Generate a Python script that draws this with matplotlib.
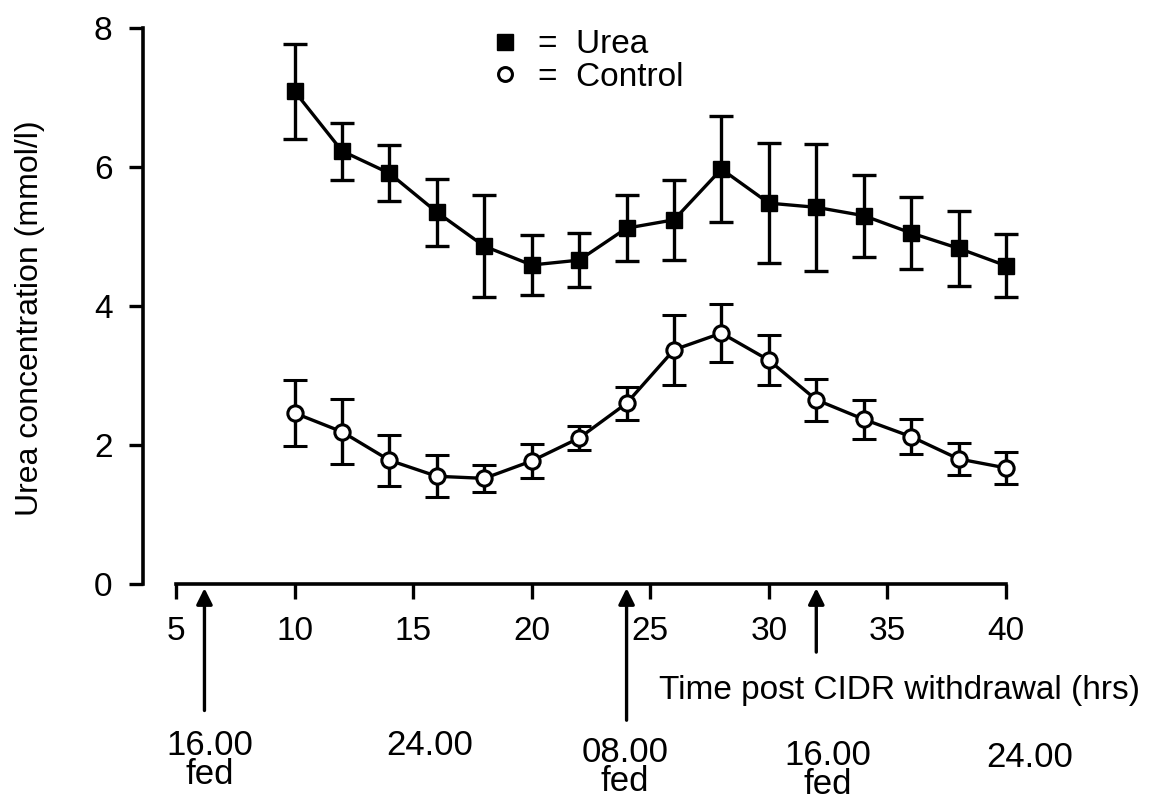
import numpy as np
import matplotlib
matplotlib.use("Agg")
import matplotlib.pyplot as plt
from matplotlib.lines import Line2D

plt.rcParams['font.family'] = ['Liberation Sans', 'DejaVu Sans']

# ── Data ──────────────────────────────────────────────────────────────────────
hours = [10, 12, 14, 16, 18, 20, 22, 24, 26, 28, 30, 32, 34, 36, 38, 40]

urea_mean = [7.09, 6.23, 5.91, 5.35, 4.86, 4.59, 4.66, 5.12,
             5.24, 5.97, 5.48, 5.42, 5.30, 5.05, 4.83, 4.58]
urea_err = [0.68, 0.41, 0.40, 0.48, 0.73, 0.43, 0.39, 0.47,
            0.58, 0.76, 0.86, 0.91, 0.59, 0.52, 0.54, 0.45]

control_mean = [2.46, 2.19, 1.78, 1.55, 1.52, 1.77, 2.10, 2.60,
                3.37, 3.61, 3.22, 2.65, 2.37, 2.12, 1.80, 1.67]
control_err = [0.47, 0.47, 0.37, 0.30, 0.19, 0.24, 0.17, 0.24,
               0.50, 0.42, 0.36, 0.30, 0.28, 0.25, 0.23, 0.23]

x_ticks = [5, 10, 15, 20, 25, 30, 35, 40]
y_ticks = [0, 2, 4, 6, 8]

# feeding events / clock times along the time axis
feed_times = [6.2, 24, 32]
clock_labels = ["16.00\nfed", "24.00", "08.00\nfed", "16.00\nfed", "24.00"]
clock_times = [6.43, 15.7, 23.94, 32.5, 41.0]

# ── Figure ────────────────────────────────────────────────────────────────────
fig = plt.figure(figsize=(11.72, 8.0), dpi=100)
ax = fig.add_axes([143 / 1172, 216 / 800, 867 / 1172, 556 / 800])

px_per_unit = 830 / 35
ax.set_xlim(5 - 33 / px_per_unit, 40 + 4 / px_per_unit)
ax.set_ylim(0, 8)

err_kw = dict(color='black', lw=2.4, capsize=8.5, capthick=2.4,
              elinewidth=2.4, clip_on=False, zorder=3)

ax.errorbar(hours, urea_mean, yerr=urea_err, marker='s', ms=11,
            mfc='black', mec='black', **err_kw)
ax.errorbar(hours, control_mean, yerr=control_err, marker='o', ms=11,
            mfc='white', mec='black', mew=2.2, **err_kw)

# ── Axes styling ──────────────────────────────────────────────────────────────
for side in ['top', 'right']:
    ax.spines[side].set_visible(False)
ax.spines['left'].set_linewidth(2.6)
ax.spines['bottom'].set_linewidth(2.6)
ax.spines['left'].set_bounds(0, 8)
ax.spines['bottom'].set_bounds(5, 40)

ax.set_xticks(x_ticks)
ax.set_yticks(y_ticks)
ax.tick_params(axis='both', width=2.4, labelsize=24)
ax.tick_params(axis='x', length=11, pad=12)
ax.tick_params(axis='y', length=10, pad=12)

fig.text(30 / 1172, 1 - 318 / 800, "Urea concentration (mmol/l)",
         rotation=90, ha='center', va='center', fontsize=23)

ax.text(35.5, -1.53, "Time post CIDR withdrawal (hrs)", ha='center',
        va='center', fontsize=24, clip_on=False)

# ── Feeding arrows and clock times ────────────────────────────────────────────
arrow_lengths = [1.86, 2.0, 1.02]
for t, length in zip(feed_times, arrow_lengths):
    ax.annotate('', xy=(t, -0.02), xytext=(t, -length),
                arrowprops=dict(arrowstyle='-|>', lw=2.4, color='black',
                                mutation_scale=24),
                annotation_clip=False)

clock_y = [-2.53, -2.32, -2.63, -2.67, -2.5]
for t, lab, y in zip(clock_times, clock_labels, clock_y):
    ax.text(t, y, lab, ha='center', va='center', fontsize=25,
            linespacing=0.85, clip_on=False)

# ── Legend ────────────────────────────────────────────────────────────────────
handles = [
    Line2D([], [], ls='none', marker='s', ms=11, mfc='black', mec='black'),
    Line2D([], [], ls='none', marker='o', ms=10, mfc='white', mec='black',
           mew=2.2),
]
fig.legend(handles, ["=  Urea", "=  Control"], loc='upper left',
           bbox_to_anchor=(478 / 1172, 1 - 16 / 800), frameon=False,
           fontsize=24, handlelength=0.8, handletextpad=0.6,
           labelspacing=0.05, borderaxespad=0)

fig.savefig("out.png", dpi=100)
